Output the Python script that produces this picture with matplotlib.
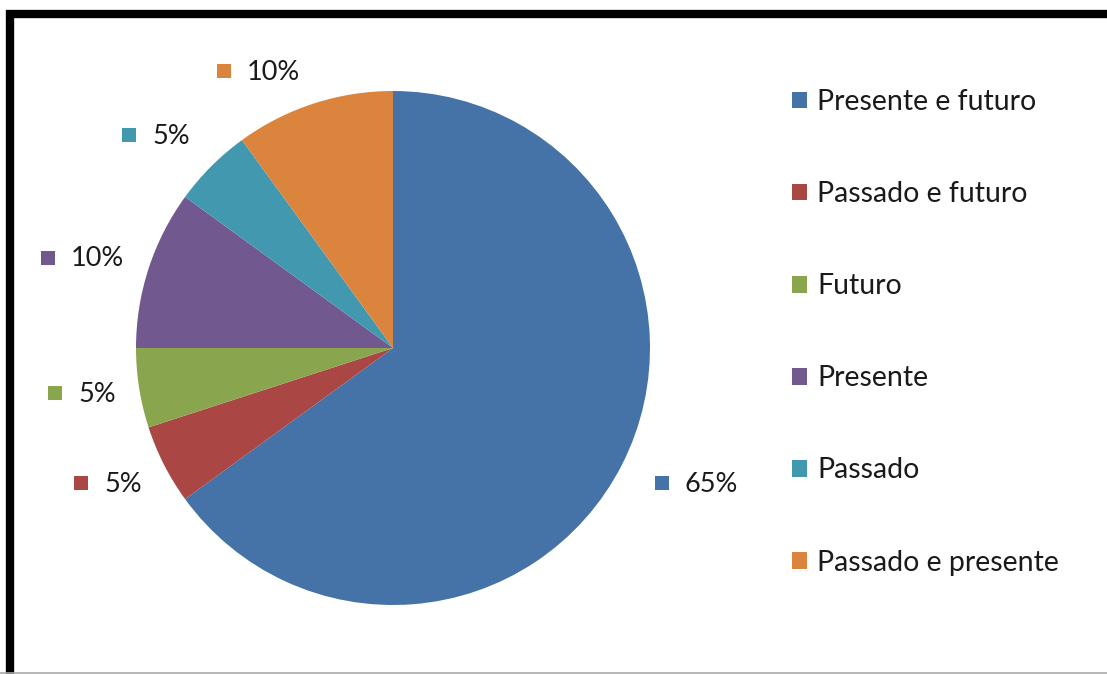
import matplotlib
matplotlib.use("Agg")
import matplotlib.pyplot as plt
from matplotlib.patches import Rectangle
from matplotlib.lines import Line2D

W, H = 1107, 674

categories = ["Presente e futuro", "Passado e futuro", "Futuro",
              "Presente", "Passado", "Passado e presente"]
shares = [65, 5, 5, 10, 5, 10]
colors = ["#4572A7", "#AA4643", "#89A54E", "#71588F", "#4198AF", "#DB843D"]

# where each data label's colour square sits (pixels from top-left)
label_anchor = [(662, 483), (81, 483), (55, 393), (48, 258), (129, 135), (224, 71)]

plt.rcParams["font.family"] = ["Lato", "DejaVu Sans"]
TEXT = "#1a1a1a"
FS = 19.5
FS_LEG = 20.5


def fx(x):
    return x / W


def fy(y):
    return 1 - y / H


fig = plt.figure(figsize=(W / 100, H / 100), dpi=100)

# pie centred at (393, 348) px, radius 257 px
cx, cy, r = 393, 348, 257
ax = fig.add_axes([fx(cx - r), fy(cy + r), 2 * r / W, 2 * r / H])
wedges, _ = ax.pie(shares, colors=colors, startangle=90, counterclock=False,
                   radius=1.0, wedgeprops=dict(linewidth=0))
ax.set_xlim(-1, 1)
ax.set_ylim(-1, 1)
ax.set_aspect("auto")
ax.axis("off")

# data labels: small colour square + percentage
sq = 14
for (x, y), v, c in zip(label_anchor, shares, colors):
    fig.add_artist(Rectangle((fx(x - sq / 2), fy(y + sq / 2)), sq / W, sq / H,
                             transform=fig.transFigure, color=c, lw=0))
    fig.text(fx(x + 23), fy(y + 1), f"{v}%", fontsize=FS, color=TEXT,
             va="center", ha="left")

# legend on the right
handles = [Rectangle((0, 0), 1, 1, color=c, lw=0) for c in colors]
fig.legend(handles, categories, loc="upper left",
           bbox_to_anchor=(fx(778), fy(75)), frameon=False, fontsize=FS_LEG,
           handlelength=0.52, handleheight=0.52, handletextpad=0.36,
           labelspacing=2.32, labelcolor=TEXT, borderpad=0)

# thick black frame, running off the right and bottom edges
fig.add_artist(Rectangle((fx(10), fy(H + 20)), fx(W + 40), (H + 6) / H,
                         transform=fig.transFigure, fill=False,
                         edgecolor="black", lw=6))
fig.add_artist(Line2D([0, 1], [fy(672.5), fy(672.5)], transform=fig.transFigure,
                      color="#aaaaaa", lw=1.2))

fig.savefig("out.png", dpi=100, facecolor="white")
